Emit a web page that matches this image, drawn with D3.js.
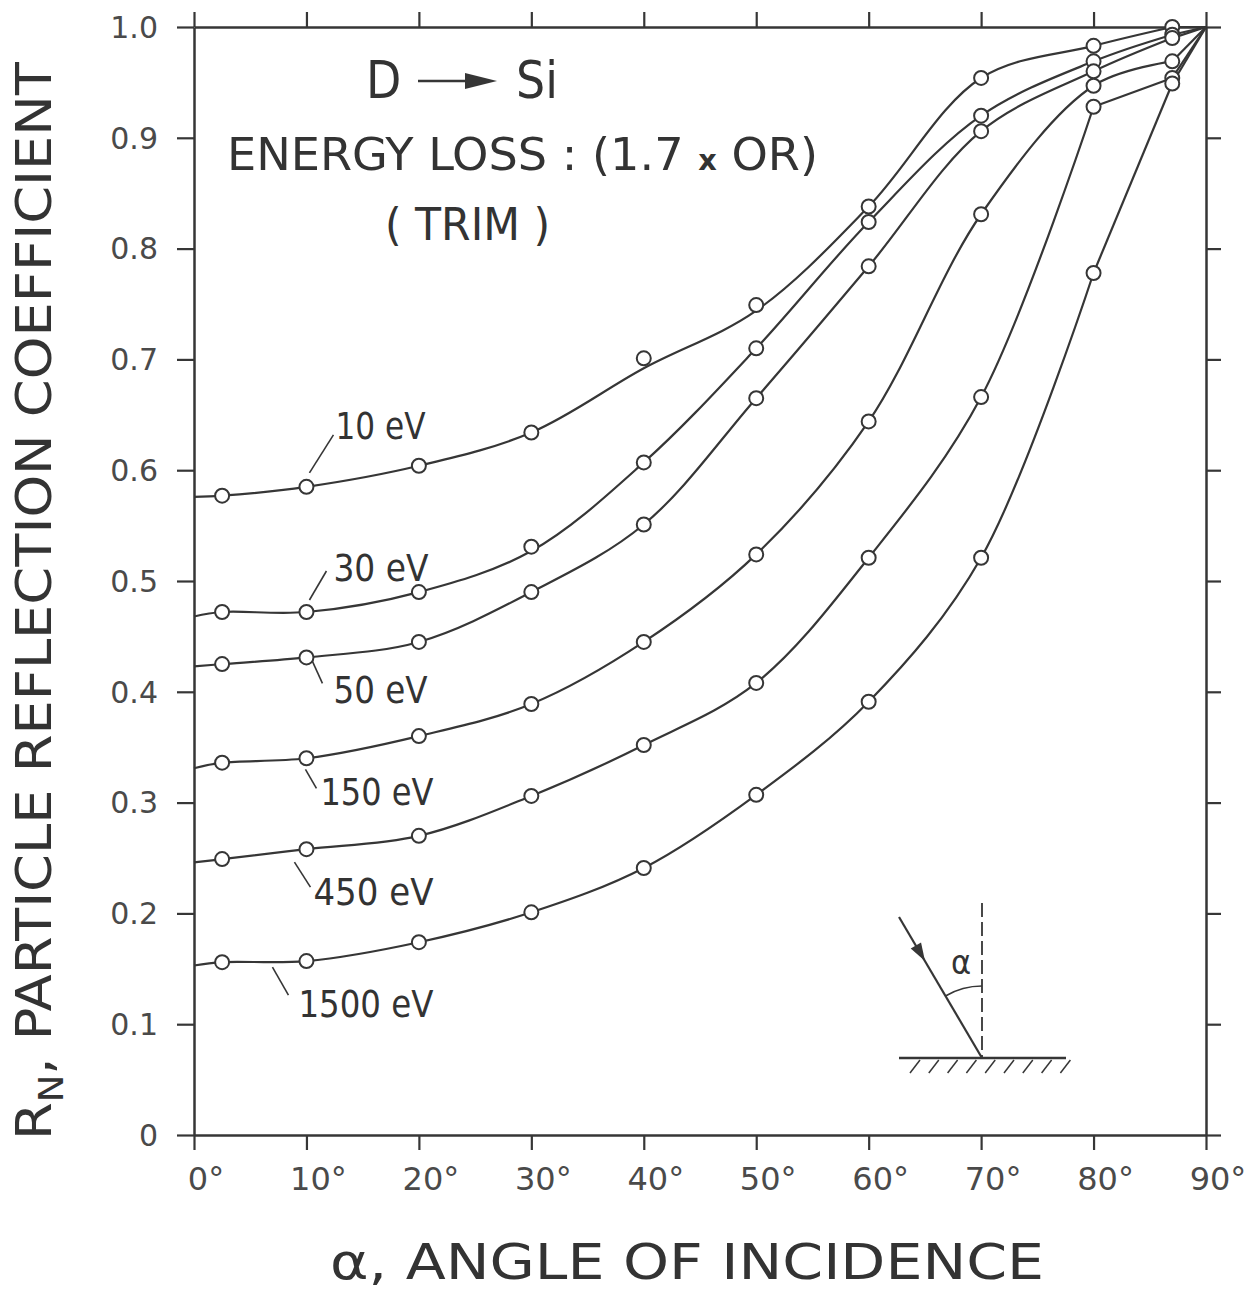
<!DOCTYPE html>
<html>
<head>
<meta charset="utf-8">
<script src="https://cdn.jsdelivr.net/npm/d3@7"></script>
<style>
  body { margin: 0; background: #fff; }
  svg { display: block; }
  text { font-family: "DejaVu Sans Condensed", "DejaVu Sans", sans-serif; fill: #333; }
  .tick-label { font-family: "DejaVu Sans", sans-serif; fill: #4a4a4a; }
</style>
</head>
<body>
<svg id="chart"></svg>
<script>
// angle of incidence (deg) of the TRIM points
const angles = [2.5, 10, 20, 30, 40, 50, 60, 70, 80, 87];
const energies = ['10 eV', '30 eV', '50 eV', '150 eV', '450 eV', '1500 eV'];
// particle reflection coefficient R_N, one array per energy
const r10   = [0.577, 0.585, 0.604, 0.634, 0.701, 0.749, 0.838, 0.954, 0.983, 1.000];
const r30   = [0.472, 0.472, 0.490, 0.531, 0.607, 0.710, 0.824, 0.920, 0.969, 0.993];
const r50   = [0.425, 0.431, 0.445, 0.490, 0.551, 0.665, 0.784, 0.906, 0.960, 0.990];
const r150  = [0.336, 0.340, 0.360, 0.389, 0.445, 0.524, 0.644, 0.831, 0.947, 0.969];
const r450  = [0.249, 0.258, 0.270, 0.306, 0.352, 0.408, 0.521, 0.666, 0.928, 0.954];
const r1500 = [0.156, 0.157, 0.174, 0.201, 0.241, 0.307, 0.391, 0.521, 0.778, 0.949];

// hand-drawn fit curves: value at the 0 deg axis, all end at (90, 1.0)
const curveStart = [0.576, 0.468, 0.423, 0.331, 0.246, 0.153];
const curveEnd = 1.0;
// places where the drawn curve misses a circle: [series, angle, curve value]
const curveMiss = [[0, 40, 0.692], [0, 50, 0.744], [1, 30, 0.527]];
// angles where the drawn curve has a corner
const curveBreaks = [[87], [87], [87], [87], [80, 87], [80, 87]];

const xTicks = [0, 10, 20, 30, 40, 50, 60, 70, 80, 90];
const yTicks = [0, 0.1, 0.2, 0.3, 0.4, 0.5, 0.6, 0.7, 0.8, 0.9, 1.0];
const yTickLabels = ['0', '0.1', '0.2', '0.3', '0.4', '0.5', '0.6', '0.7', '0.8', '0.9', '1.0'];

const series = [r10, r30, r50, r150, r450, r1500];

// label layout: offsets (px) from each curve's 10 deg point
const labelLayout = [
  { lead: [3, -14, 27, -52], text: [29, -48], w: 90 },
  { lead: [3, -12, 20, -41], text: [27, -31], w: 95 },
  { lead: [6, 4, 16, 26], text: [27, 46], w: 94 },
  { lead: [-1, 11, 10, 30], text: [14, 47], w: 113 },
  { lead: [-12, 13, 4, 38], text: [7, 56], w: 120 },
  { lead: [-34, 6, -18, 34], text: [-8, 56], w: 135 }
];

const W = 1254, H = 1290;
const ink = '#363636';

const svg = d3.select('#chart').attr('width', W).attr('height', H);

const x = d3.scaleLinear().domain([0, 90]).range([194, 1206]);
const y = d3.scaleLinear().domain([0, 1]).range([1135, 27]);

// axes
const axStyle = g => {
  g.select('.domain').attr('stroke', ink).attr('stroke-width', 2.5);
  g.selectAll('.tick line').attr('stroke', ink).attr('stroke-width', 2.2);
};

svg.append('g')
  .attr('transform', `translate(0,${y(0)})`)
  .call(d3.axisBottom(x).tickValues(xTicks).tickSize(15).tickSizeOuter(0).tickFormat(''))
  .call(axStyle);
svg.append('g')
  .attr('transform', `translate(0,${y(1)})`)
  .call(d3.axisTop(x).tickValues(xTicks).tickSize(15).tickSizeOuter(0).tickFormat(''))
  .call(axStyle);
svg.append('g')
  .attr('transform', `translate(${x(0)},0)`)
  .call(d3.axisLeft(y).tickValues(yTicks).tickSize(17).tickSizeOuter(0).tickFormat(''))
  .call(axStyle);
svg.append('g')
  .attr('transform', `translate(${x(90)},0)`)
  .call(d3.axisRight(y).tickValues(yTicks).tickSize(15).tickSizeOuter(0).tickFormat(''))
  .call(axStyle);

// tick labels
svg.append('g').selectAll('text')
  .data(yTicks)
  .join('text')
  .attr('class', 'tick-label')
  .attr('x', 158)
  .attr('y', d => y(d))
  .attr('dy', '0.36em')
  .attr('text-anchor', 'end')
  .attr('font-size', 30)
  .text((d, i) => yTickLabels[i]);

svg.append('g').selectAll('text')
  .data(xTicks)
  .join('text')
  .attr('class', 'tick-label')
  .attr('x', d => x(d) + 12)
  .attr('y', 1190)
  .attr('text-anchor', 'middle')
  .attr('font-size', 32)
  .text(d => d + '°');

// axis titles
svg.append('text')
  .attr('x', 687)
  .attr('y', 1279)
  .attr('text-anchor', 'middle')
  .attr('font-size', 50)
  .attr('textLength', 714)
  .attr('lengthAdjust', 'spacingAndGlyphs')
  .text('α, ANGLE OF INCIDENCE');

const yTitle = svg.append('text')
  .attr('transform', 'translate(51,601) rotate(-90)')
  .attr('text-anchor', 'middle')
  .attr('font-size', 50)
  .attr('textLength', 1078)
  .attr('lengthAdjust', 'spacingAndGlyphs');
yTitle.append('tspan').text('R');
yTitle.append('tspan').attr('font-size', 34).attr('dy', 12).text('N');
yTitle.append('tspan').attr('dy', -12).text(', PARTICLE REFLECTION COEFFICIENT');

// curves: smooth pieces between the corners
const line = d3.line()
  .x(d => x(d[0]))
  .y(d => y(d[1]))
  .curve(d3.curveCatmullRom.alpha(0.5));

const curvePieces = [];
series.forEach((vals, i) => {
  const knots = [[0, curveStart[i]]]
    .concat(angles.map((a, j) => {
      const miss = curveMiss.find(m => m[0] === i && m[1] === a);
      return [a, miss ? miss[2] : vals[j]];
    }))
    .concat([[90, curveEnd]]);
  let piece = [];
  knots.forEach(k => {
    piece.push(k);
    if (curveBreaks[i].includes(k[0])) {
      curvePieces.push(piece);
      piece = [k];
    }
  });
  curvePieces.push(piece);
});

svg.append('g').selectAll('path')
  .data(curvePieces)
  .join('path')
  .attr('d', line)
  .attr('fill', 'none')
  .attr('stroke', ink)
  .attr('stroke-width', 2.2)
  .attr('stroke-linejoin', 'round');

// data points
svg.append('g').selectAll('g')
  .data(series)
  .join('g')
  .selectAll('circle')
  .data(vals => vals.map((v, j) => [angles[j], v]))
  .join('circle')
  .attr('cx', d => x(d[0]))
  .attr('cy', d => y(d[1]))
  .attr('r', 7)
  .attr('fill', '#fff')
  .attr('stroke', ink)
  .attr('stroke-width', 2);

// energy labels with leader lines
const i10 = angles.indexOf(10);
const labels = svg.append('g');
series.forEach((vals, i) => {
  const px = x(10), py = y(vals[i10]);
  const L = labelLayout[i];
  labels.append('line')
    .attr('x1', px + L.lead[0]).attr('y1', py + L.lead[1])
    .attr('x2', px + L.lead[2]).attr('y2', py + L.lead[3])
    .attr('stroke', ink).attr('stroke-width', 1.6);
  labels.append('text')
    .attr('x', px + L.text[0])
    .attr('y', py + L.text[1])
    .attr('font-size', 37)
    .attr('textLength', L.w)
    .attr('lengthAdjust', 'spacingAndGlyphs')
    .text(energies[i]);
});

// title block
const title = svg.append('g');
title.append('text').attr('x', 366).attr('y', 98).attr('font-size', 51).text('D');
title.append('line')
  .attr('x1', 418).attr('y1', 81).attr('x2', 470).attr('y2', 81)
  .attr('stroke', ink).attr('stroke-width', 2.5);
title.append('path')
  .attr('d', 'M465,73 L497,81 L465,89 Z')
  .attr('fill', ink);
title.append('text').attr('x', 516).attr('y', 98).attr('font-size', 51).text('Si');

const t2 = title.append('text')
  .attr('x', 227).attr('y', 170)
  .attr('font-size', 45)
  .attr('textLength', 591)
  .attr('lengthAdjust', 'spacingAndGlyphs');
t2.append('tspan').text('ENERGY  LOSS :  (1.7 ');
t2.append('tspan').attr('font-size', 28).attr('font-weight', 'bold').text('x');
t2.append('tspan').text(' OR)');

title.append('text')
  .attr('x', 385).attr('y', 240)
  .attr('font-size', 45)
  .attr('textLength', 165)
  .attr('lengthAdjust', 'spacingAndGlyphs')
  .text('( TRIM )');

// inset: angle of incidence sketch
const inset = svg.append('g').attr('transform', 'translate(982,1058)');
inset.append('line')
  .attr('x1', -83).attr('y1', 0).attr('x2', 84).attr('y2', 0)
  .attr('stroke', ink).attr('stroke-width', 2.5);
d3.range(9).forEach(k => {
  const xt = -62 + k * 18.8;
  inset.append('line')
    .attr('x1', xt).attr('y1', 2).attr('x2', xt - 10).attr('y2', 15)
    .attr('stroke', ink).attr('stroke-width', 1.5);
});
inset.append('line')
  .attr('x1', 0).attr('y1', -155).attr('x2', 0).attr('y2', 0)
  .attr('stroke', ink).attr('stroke-width', 1.8)
  .attr('stroke-dasharray', '14,5');
inset.append('line')
  .attr('x1', -83).attr('y1', -141).attr('x2', 0).attr('y2', 0)
  .attr('stroke', ink).attr('stroke-width', 2.2);
// arrowhead on the incident ray
const ang = Math.atan2(141, 83);
const ax = -57, ay = -97;
inset.append('path')
  .attr('d', 'M0,0 L-18,-6 L-18,6 Z')
  .attr('transform', `translate(${ax},${ay}) rotate(${ang * 180 / Math.PI})`)
  .attr('fill', ink);
const tilt = Math.atan2(83, 141);
inset.append('path')
  .attr('d', d3.arc()({ innerRadius: 72, outerRadius: 72, startAngle: -tilt, endAngle: 0 }))
  .attr('fill', 'none')
  .attr('stroke', ink)
  .attr('stroke-width', 1.6);
inset.append('text')
  .attr('x', -21).attr('y', -84)
  .attr('text-anchor', 'middle')
  .attr('font-size', 34)
  .text('α');
</script>
</body>
</html>
